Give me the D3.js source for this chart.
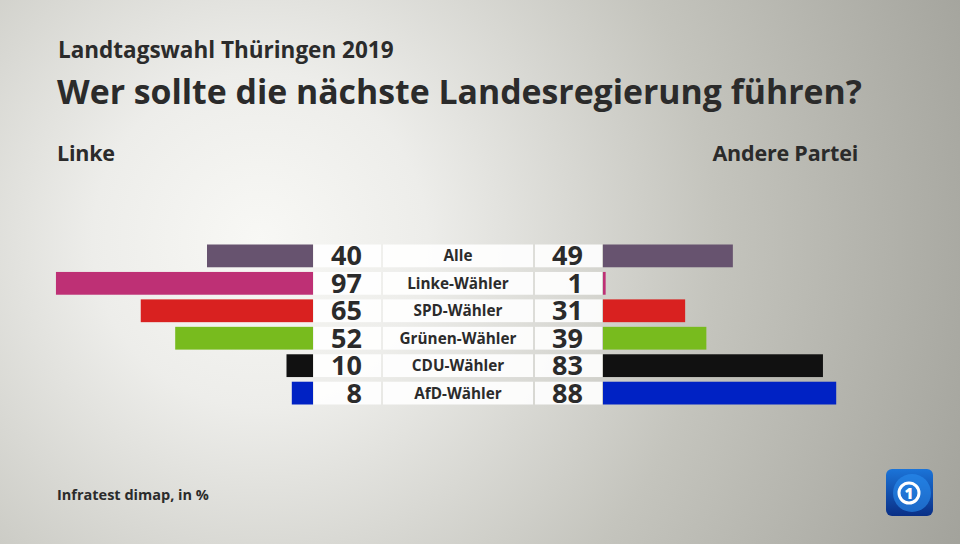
<!DOCTYPE html>
<html><head><meta charset="utf-8">
<script src="https://cdn.jsdelivr.net/npm/d3@7"></script>
<style>html,body{margin:0;padding:0;overflow:hidden}svg{display:block}</style>
</head><body>
<svg id="c" width="960" height="544"></svg>
<script>
const categories = ["Alle","Linke-Wähler","SPD-Wähler","Grünen-Wähler","CDU-Wähler","AfD-Wähler"];
const linkeValues = [40,97,65,52,10,8];
const andereValues = [49,1,31,39,83,88];
const colors = ["#67536f","#be3075","#d92120","#78bb1e","#111111","#0022c4"];
const title = "Landtagswahl Thüringen 2019";
const subtitle = "Wer sollte die nächste Landesregierung führen?";
const leftHeader = "Linke";
const rightHeader = "Andere Partei";
const source = "Infratest dimap, in %";

const svg = d3.select("#c");
const W = 960, H = 544;
const font = "'Open Sans', Lato, sans-serif";
const ink = "#2b2b2b";

const defs = svg.append("defs");
const bg = defs.append("radialGradient").attr("id","bg")
  .attr("gradientUnits","userSpaceOnUse").attr("cx",260).attr("cy",240).attr("r",760);
bg.append("stop").attr("offset","0").attr("stop-color","#f8f8f5");
bg.append("stop").attr("offset","0.22").attr("stop-color","#ededea");
bg.append("stop").attr("offset","0.6").attr("stop-color","#c4c4bd");
bg.append("stop").attr("offset","1").attr("stop-color","#a3a39c");
svg.append("rect").attr("width",W).attr("height",H).attr("fill","url(#bg)");

svg.append("text").attr("x",58).attr("y",58).attr("font-family",font).attr("font-weight",700)
  .attr("font-size",22.5).attr("fill",ink).text(title);
svg.append("text").attr("x",57).attr("y",103.5).attr("font-family",font).attr("font-weight",700)
  .attr("font-size",33.8).attr("fill",ink).text(subtitle);
svg.append("text").attr("x",57).attr("y",161).attr("font-family",font).attr("font-weight",700)
  .attr("font-size",21.5).attr("letter-spacing",-0.2).attr("fill",ink).text(leftHeader);
svg.append("text").attr("x",858).attr("y",161).attr("text-anchor","end").attr("font-family",font).attr("font-weight",700)
  .attr("font-size",21.5).attr("letter-spacing",-0.2).attr("fill",ink).text(rightHeader);
svg.append("text").attr("x",57).attr("y",500).attr("font-family",font).attr("font-weight",700)
  .attr("font-size",14.5).attr("fill",ink).text(source);

const y = d3.scaleBand().domain(categories).range([244.5, 404.5]).paddingInner(0.17).paddingOuter(0);
const x = d3.scaleLinear().domain([0,100]).range([0,265]);
const leftEdge = 313, rightEdge = 603;

const rows = svg.append("g").selectAll("g").data(categories).join("g")
  .attr("transform", d => `translate(0,${y(d)})`);
const bh = y.bandwidth();

rows.append("rect").attr("x",(d,i)=>leftEdge - x(linkeValues[i])).attr("width",(d,i)=>x(linkeValues[i]))
  .attr("height",bh).attr("fill",(d,i)=>colors[i]);
rows.append("rect").attr("x",rightEdge).attr("width",(d,i)=>x(andereValues[i]))
  .attr("height",bh).attr("fill",(d,i)=>colors[i]);

rows.append("rect").attr("x",314).attr("width",67).attr("height",bh).attr("fill","#ffffff").attr("opacity",0.9);
rows.append("rect").attr("x",383).attr("width",150).attr("height",bh).attr("fill","#ffffff").attr("opacity",0.9);
rows.append("rect").attr("x",535).attr("width",67).attr("height",bh).attr("fill","#ffffff").attr("opacity",0.9);

rows.append("text").attr("x",362).attr("y",bh/2+9.5).attr("text-anchor","end")
  .attr("font-family",font).attr("font-weight",700).attr("font-size",27).attr("fill",ink)
  .text((d,i)=>linkeValues[i]);
rows.append("text").attr("x",583).attr("y",bh/2+9.5).attr("text-anchor","end")
  .attr("font-family",font).attr("font-weight",700).attr("font-size",27).attr("fill",ink)
  .text((d,i)=>andereValues[i]);
rows.append("text").attr("x",458).attr("y",bh/2+5.5).attr("text-anchor","middle")
  .attr("font-family",font).attr("font-weight",700).attr("font-size",15.3).attr("fill",ink)
  .text(d=>d);

// logo
const lg = defs.append("linearGradient").attr("id","lg").attr("x1",0).attr("y1",0).attr("x2",0).attr("y2",1);
lg.append("stop").attr("offset",0).attr("stop-color","#1b74d8");
lg.append("stop").attr("offset",1).attr("stop-color","#0a2f86");
const logo = svg.append("g").attr("transform","translate(886,469)");
logo.append("rect").attr("width",47).attr("height",47).attr("rx",6).attr("fill","url(#lg)");
logo.append("circle").attr("cx",26).attr("cy",24).attr("r",19).attr("fill","#2a8df0").attr("opacity",0.6);
logo.append("circle").attr("cx",23).attr("cy",24).attr("r",10).attr("fill","none").attr("stroke","#ffffff").attr("stroke-width",3);
logo.append("text").attr("x",23).attr("y",30).attr("text-anchor","middle").attr("font-family",font)
  .attr("font-weight",800).attr("font-size",15).attr("fill","#ffffff").text("1");
</script>
</body></html>
